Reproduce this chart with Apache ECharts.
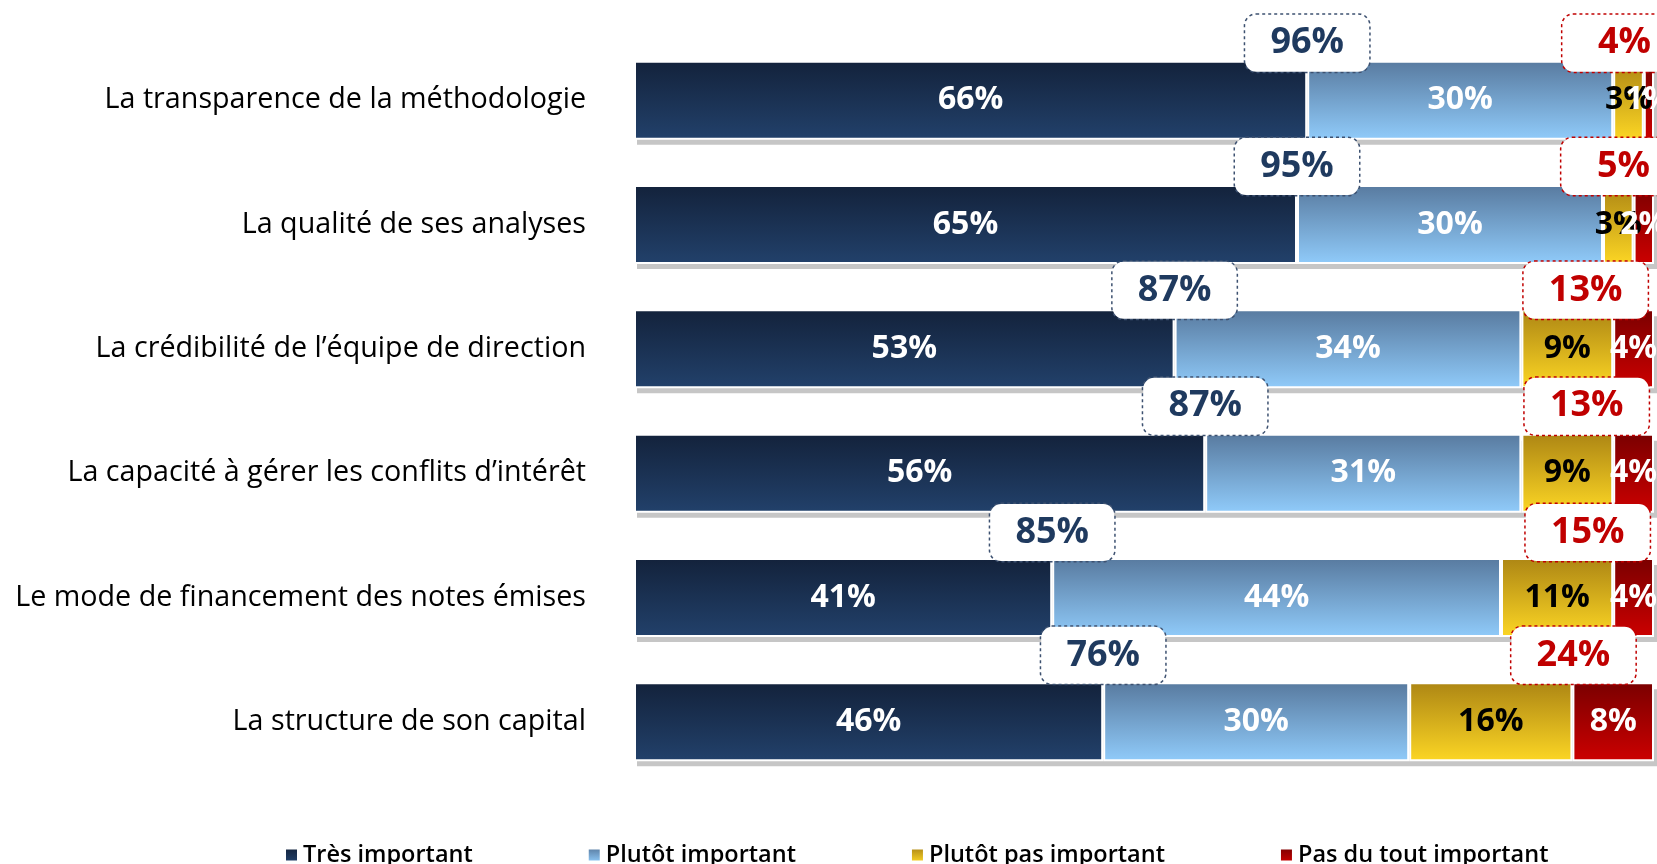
<!DOCTYPE html>
<html><head><meta charset="utf-8">
<script src="https://cdn.jsdelivr.net/npm/echarts@6/dist/echarts.min.js"></script>
<style>html,body{margin:0;padding:0;background:#fff}#c{width:1657px;height:864px}</style>
</head><body><div id="c"></div>
<script>
// ---- data ----
const categories = [
  "La transparence de la méthodologie",
  "La qualité de ses analyses",
  "La crédibilité de l’équipe de direction",
  "La capacité à gérer les conflits d’intérêt",
  "Le mode de financement des notes émises",
  "La structure de son capital"
];
const seriesNames = ["Très important", "Plutôt important", "Plutôt pas important", "Pas du tout important"];
const tresImportant = [66, 65, 53, 56, 41, 46];
const plutotImportant = [30, 30, 34, 31, 44, 30];
const plutotPasImportant = [3, 3, 9, 9, 11, 16];
const pasDuToutImportant = [1, 2, 4, 4, 4, 8];
const totalImportant = [96, 95, 87, 87, 85, 76];
const totalPasImportant = [4, 5, 13, 13, 15, 24];

// ---- layout only (not data) ----
const negBoxAnchor = [97.1, 97.0, 93.3, 93.4, 93.5, 92.1]; // where the right-hand boxes sit on the value axis
const boxLift = [57, 58, 58.5, 67, 65, 66.5];               // px above the bar centre
const BAR_W = 79;

const FONT = "Open Sans";
function grad(top, bottom) {
  return new echarts.graphic.LinearGradient(0, 0, 0, 1, [
    { offset: 0, color: top }, { offset: 1, color: bottom }
  ]);
}
const fills = [
  grad("#13223b", "#22416b"),
  grad("#587a9f", "#90cbfa"),
  grad("#ad8614", "#fcd624"),
  grad("#7a0000", "#cc0000")
];
const labelColors = ["#ffffff", "#ffffff", "#000000", "#ffffff"];
const values = [tresImportant, plutotImportant, plutotPasImportant, pasDuToutImportant];

const barSeries = seriesNames.map((name, i) => ({
  name: name,
  type: "bar",
  stack: "total",
  barWidth: BAR_W,
  z: 3,
  data: values[i],
  itemStyle: { color: fills[i], borderColor: "#ffffff", borderWidth: 2 },
  label: {
    show: true,
    position: "inside",
    formatter: p => p.value + "%",
    color: labelColors[i],
    fontFamily: FONT,
    fontWeight: "bold",
    fontSize: 32
  },
  emphasis: { disabled: true }
}));

// grey drop shadow under each whole bar, drawn through the axes
const shadowData = categories.map((c, i) =>
  [tresImportant[i] + plutotImportant[i] + plutotPasImportant[i] + pasDuToutImportant[i], i]);
const shadowSeries = {
  type: "custom",
  z: 1,
  silent: true,
  encode: { x: 0, y: 1 },
  data: shadowData,
  renderItem: (params, api) => {
    const start = api.coord([0, api.value(1)]);
    const end = api.coord([api.value(0), api.value(1)]);
    return {
      type: "rect",
      shape: { x: start[0] + 3, y: start[1] - BAR_W / 2 + 7, width: end[0] - start[0], height: BAR_W - 2 },
      style: { fill: "#c6c6c6" }
    };
  }
};

function boxSeries(data, color, border) {
  return {
    type: "scatter",
    symbolSize: 1,
    itemStyle: { color: "rgba(0,0,0,0)", opacity: 1 },
    z: 10,
    silent: true,
    data: data.map((d, i) => ({
      value: d,
      label: { offset: [0, -boxLift[i]] }
    })),
    label: {
      show: true,
      position: "inside",
      formatter: p => p.value[2] + "%",
      color: color,
      opacity: 1,
      fontFamily: FONT,
      fontWeight: "bold",
      fontSize: 36,
      backgroundColor: "#ffffff",
      borderColor: border,
      borderType: "dotted",
      borderWidth: 1.5,
      borderRadius: 11,
      width: 124,
      height: 57,
      lineHeight: 57,
      align: "center",
      verticalAlign: "middle"
    }
  };
}

const posData = categories.map((c, i) => [tresImportant[i], c, totalImportant[i]]);
const negData = categories.map((c, i) => [negBoxAnchor[i], c, totalPasImportant[i]]);

const chart = echarts.init(document.getElementById("c"), null, { renderer: "canvas" });
chart.setOption({
  animation: false,
  backgroundColor: "#ffffff",
  grid: { left: 634, right: 3, top: 38, bottom: 80, containLabel: false },
  xAxis: { type: "value", min: 0, max: 100, show: false },
  yAxis: {
    type: "category",
    data: categories,
    inverse: true,
    axisLine: { show: false },
    axisTick: { show: false },
    axisLabel: { margin: 48, fontFamily: FONT, fontSize: 28.7, color: "#000000" }
  },
  legend: {
    data: seriesNames.map((n, i) => ({ name: n, itemStyle: { color: fills[i] } })),
    left: 279,
    top: 838,
    icon: "rect",
    itemWidth: 13,
    itemHeight: 13,
    itemGap: 114,
    textStyle: { fontFamily: FONT, fontSize: 23.5, fontWeight: 600, color: "#000000" }
  },
  series: [shadowSeries].concat(barSeries).concat([
    boxSeries(posData, "#1f3a5f", "#3d5170"),
    boxSeries(negData, "#c00000", "#c00000")
  ])
});
</script></body></html>
